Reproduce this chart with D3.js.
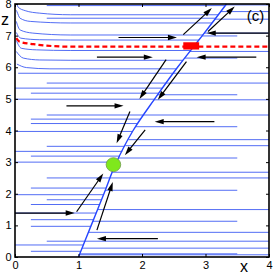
<!DOCTYPE html>
<html>
<head>
<meta charset="utf-8">
<script src="https://cdn.jsdelivr.net/npm/d3@7"></script>
<style>
  body { margin: 0; background: #fff; }
  svg text { font-family: "Liberation Sans", Arial, sans-serif; }
</style>
</head>
<body>
<div id="vis"></div>
<script>
// attracting curve (nullcline) the flow slides along
const curveZ = [0, 1, 2, 2.92, 4, 5, 6, 6.67, 7, 8];
const curveX = [1.0, 1.2, 1.4, 1.58, 1.86, 2.2, 2.56, 2.82, 2.95, 3.33];

// trajectories starting on the left edge that bend down before going flat
const bentLines = [
  [[0.03, 8.0], [0.05, 7.9], [0.16, 7.79], [0.39, 7.71], [0.87, 7.66]],
  [[0.02, 7.8], [0.03, 7.76], [0.08, 7.55], [0.24, 7.45], [0.87, 7.4]],
  [[0.02, 7.45], [0.08, 7.18], [0.28, 7.08], [0.87, 7.02]],
  [[0.02, 7.1], [0.09, 6.92], [0.39, 6.87], [0.87, 6.86]],
  [[0.02, 6.85], [0.1, 6.6], [0.34, 6.55], [0.87, 6.53]],
  [[0.02, 6.5], [0.13, 6.29], [0.39, 6.23], [0.87, 6.22]],
  [[0.03, 6.1], [0.18, 5.99], [0.55, 5.95]]
];
// red dashed separatrix
const redLine = [[0.02, 6.92], [0.07, 6.81], [0.29, 6.73], [0.87, 6.65], [4, 6.65]];

// straight trajectories moving right: [z, x start]
const leftLines = [
  [7.95, 0.5], [7.55, 0.5], [5.81, 0.05], [5.5, 0.5], [5.34, 0], [5.18, 0.25], [4.99, 0],
  [4.49, 0.5], [4.36, 0.25], [4.22, 0.25], [3.97, 0], [3.5, 0.5], [3.34, 0], [3.19, 0.25],
  [3.0, 0], [2.5, 0.5], [2.18, 0.25], [1.97, 0], [1.81, 0.5], [1.66, 0.25], [1.39, 0],
  [1.18, 0.25], [0.97, 0.25], [0.5, 0.5], [0.38, 0], [0.18, 0.25]
];
// straight trajectories moving left: [z, x start]
const rightLines = [
  [7.97, 4], [7.76, 4], [7.52, 4], [7.08, 4], [6.99, 3.5], [6.5, 4], [6.29, 3.5], [5.81, 4],
  [5.5, 4], [5.13, 3.5], [4.97, 4], [4.49, 4], [4.12, 3.5], [3.71, 4], [3.52, 4], [3.13, 3.5],
  [2.68, 4], [2.5, 4], [2.11, 3.5], [1.5, 4], [1.13, 3.5], [0.78, 4], [0.5, 4], [0.28, 4],
  [0.1, 3.5], [0.07, 4]
];

// black arrows: [x1, z1, x2, z2], head at the second point
const arrows = [
  [0.81, 4.78, 1.71, 4.78], [1.63, 6.94, 2.55, 6.94], [1.29, 6.32, 2.17, 6.32],
  [3.99, 7.08, 3.02, 7.08], [3.80, 6.32, 2.86, 6.32], [3.14, 4.28, 2.2, 4.28],
  [2.25, 0.58, 1.29, 0.58], [0.0, 1.39, 0.94, 1.39],
  [2.65, 7.03, 3.1, 7.87], [3.04, 7.13, 3.46, 7.92],
  [2.38, 6.24, 1.96, 5.0], [2.70, 6.18, 2.25, 4.97],
  [1.81, 4.6, 1.6, 3.6], [2.05, 4.02, 1.73, 3.22],
  [0.97, 1.43, 1.39, 2.64], [1.29, 0.85, 1.54, 2.37]
];

const stablePt = [1.55, 2.92];
const unstableBox = [2.65, 6.56, 2.90, 6.79];
const xTicks = [0, 1, 2, 3, 4];
const zTicks = [0, 1, 2, 3, 4, 5, 6, 7, 8];

var W = 273, H = 273;
var x = d3.scaleLinear().domain([0, 4]).range([15, 269]);
var y = d3.scaleLinear().domain([0, 8]).range([257, 4]);
var xOnCurve = d3.scaleLinear().domain(curveZ).range(curveX);

var svg = d3.select("#vis").append("svg")
  .attr("width", W).attr("height", H);

var blue = "#3553f2";
var line = d3.line().x(d => x(d[0])).y(d => y(d[1]));
var smooth = d3.line().x(d => x(d[0])).y(d => y(d[1])).curve(d3.curveMonotoneX);

var g = svg.append("g");

// horizontal trajectories
g.selectAll(".lt").data(leftLines).join("path")
  .attr("d", d => line([[d[1], d[0]], [xOnCurve(d[0]), d[0]]]))
  .attr("stroke", blue).attr("stroke-width", 1).attr("fill", "none").attr("opacity", 0.85);
g.selectAll(".rt").data(rightLines).join("path")
  .attr("d", d => line([[d[1], d[0]], [xOnCurve(d[0]), d[0]]]))
  .attr("stroke", blue).attr("stroke-width", 1).attr("fill", "none").attr("opacity", 0.85);

// bent ones near the left edge
g.selectAll(".bt").data(bentLines).join("path")
  .attr("d", d => {
    var last = d[d.length - 1];
    return smooth(d.concat([[xOnCurve(last[1]), last[1]]]));
  })
  .attr("stroke", blue).attr("stroke-width", 1).attr("fill", "none").attr("opacity", 0.85);

// slanted curve
g.append("path")
  .attr("d", smooth.curve(d3.curveMonotoneY)(curveZ.map((z, i) => [curveX[i], z])))
  .attr("stroke", "#2545ff").attr("stroke-width", 1.4).attr("fill", "none");

// red dashed line
g.append("path")
  .attr("d", d3.line().x(d => x(d[0])).y(d => y(d[1])).curve(d3.curveMonotoneX)(redLine))
  .attr("stroke", "#ff0000").attr("stroke-width", 2.2).attr("fill", "none")
  .attr("stroke-dasharray", "5,3");

// arrows
arrows.forEach(a => {
  var x1 = x(a[0]), y1 = y(a[1]), x2 = x(a[2]), y2 = y(a[3]);
  var dx = x2 - x1, dy = y2 - y1, L = Math.hypot(dx, dy);
  var ux = dx / L, uy = dy / L, hl = 9, hw = 2.7;
  var bx = x2 - ux * hl, by = y2 - uy * hl;
  g.append("line").attr("x1", x1).attr("y1", y1).attr("x2", bx + ux * 2).attr("y2", by + uy * 2)
    .attr("stroke", "#000").attr("stroke-width", 1.2);
  g.append("path")
    .attr("d", `M${x2},${y2}L${bx - uy * hw},${by + ux * hw}L${bx + uy * hw},${by - ux * hw}Z`)
    .attr("fill", "#000");
});

// unstable point
g.append("rect")
  .attr("x", x(unstableBox[0])).attr("y", y(unstableBox[3]))
  .attr("width", x(unstableBox[2]) - x(unstableBox[0]))
  .attr("height", y(unstableBox[1]) - y(unstableBox[3]))
  .attr("fill", "#ff0000");

// stable point
g.append("ellipse")
  .attr("cx", x(stablePt[0])).attr("cy", y(stablePt[1]))
  .attr("rx", 7.3).attr("ry", 7)
  .attr("fill", "#7fe81c").attr("stroke", "#6f9a4a").attr("stroke-width", 0.8);

// axes, ticks pointing inward
var bottom = svg.append("g").attr("transform", "translate(0,257)")
  .call(d3.axisBottom(x).tickValues(xTicks).tickSize(-3).tickPadding(3.7).tickFormat(d3.format("d")));
var left = svg.append("g").attr("transform", "translate(15,0)")
  .call(d3.axisLeft(y).tickValues(zTicks).tickSize(-3).tickPadding(3.5).tickFormat(d3.format("d")));
svg.append("g").attr("transform", "translate(0,4)")
  .call(d3.axisTop(x).tickValues(xTicks).tickSize(-3).tickFormat(""));
svg.append("g").attr("transform", "translate(269,0)")
  .call(d3.axisRight(y).tickValues(zTicks).tickSize(-3).tickFormat(""));
svg.selectAll(".domain").remove();
svg.selectAll(".tick line").attr("stroke", "#000");
svg.selectAll(".tick text").attr("font-size", 11).attr("fill", "#000")
  .attr("font-family", "Liberation Sans, Arial, sans-serif");

svg.append("rect")
  .attr("x", 15).attr("y", 4).attr("width", 254).attr("height", 253)
  .attr("fill", "none").attr("stroke", "#000").attr("stroke-width", 1.6);

svg.append("text").attr("x", 244).attr("y", 272).attr("text-anchor", "middle")
  .attr("font-size", 16).text("x");
svg.append("text").attr("x", 5).attr("y", 24.5).attr("text-anchor", "middle")
  .attr("font-size", 16).text("z");
svg.append("text").attr("x", 255.5).attr("y", 20.5).attr("text-anchor", "middle")
  .attr("font-size", 15).text("(c)");
</script>
</body>
</html>
